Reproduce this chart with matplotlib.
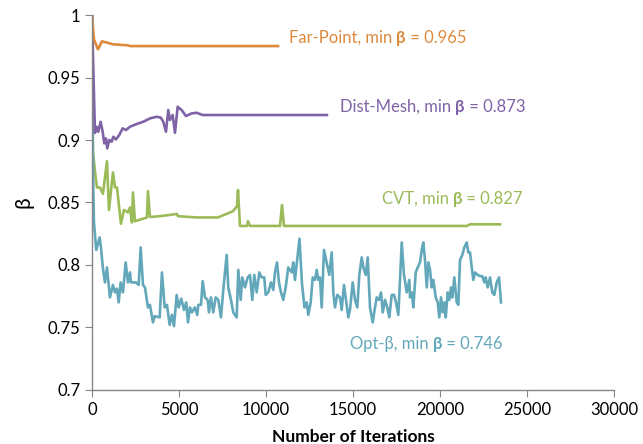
import matplotlib
matplotlib.use("Agg")
import matplotlib.pyplot as plt
from matplotlib.ticker import FuncFormatter, MultipleLocator
from matplotlib.offsetbox import TextArea, HPacker, AnnotationBbox

plt.rcParams['font.family'] = ['Lato', 'DejaVu Sans']

# Far-Point
fp_iter = [0, 115, 345, 575, 862, 1207, 2070, 2185, 10695]
fp_beta = [1.0, 0.9806, 0.9726, 0.979, 0.978, 0.9766, 0.9758, 0.9752, 0.9752]

# Dist-Mesh
dm_iter = [0, 172, 270, 362, 500, 615, 707, 805, 879, 994, 1132, 1224, 1379,
           1569, 1764, 1954, 2184, 2569, 2948, 3333, 3718, 3948, 4098, 4253,
           4385, 4483, 4638, 4770, 4925, 5155, 5402, 5730, 6017, 6362, 13500]
dm_beta = [1.0, 0.9056, 0.9106, 0.9066, 0.9146, 0.9066, 0.8973, 0.9013, 0.8933,
           0.900, 0.8986, 0.9026, 0.9005, 0.904, 0.9093, 0.908, 0.9106, 0.9128,
           0.9146, 0.9173, 0.9186, 0.918, 0.9146, 0.9066, 0.924, 0.916, 0.920,
           0.9058, 0.9266, 0.924, 0.9192, 0.9213, 0.9218, 0.920, 0.920]

# CVT
cvt_iter = [0, 57, 172, 287, 460, 632, 862, 977, 1207, 1322, 1437, 1667, 1839,
            2069, 2184, 2299, 2356, 2471, 3161, 3218, 3333, 3908, 4885, 4942,
            6034, 7241, 8103, 8333, 8391, 8506, 8908, 8965, 9080, 10804, 10919,
            11034, 21551, 21724, 23448]
cvt_beta = [1.0, 0.891, 0.875, 0.862, 0.862, 0.857, 0.883, 0.844, 0.874, 0.862,
            0.862, 0.833, 0.844, 0.842, 0.846, 0.834, 0.858, 0.835, 0.838, 0.859,
            0.8384, 0.839, 0.8408, 0.839, 0.838, 0.838, 0.843, 0.847, 0.860,
            0.8312, 0.8312, 0.835, 0.8312, 0.8312, 0.848, 0.8312, 0.8312,
            0.8325, 0.8325]

# Opt-beta
opt_iter = [0, 60, 115, 247, 442, 517, 632, 747, 862, 1034, 1207, 1322, 1437,
            1534, 1649, 1782, 1937, 2069, 2184, 2241, 2529, 2684, 2799, 2931,
            3046, 3218, 3333, 3506, 3603, 3891, 4023, 4178, 4310, 4465, 4598,
            4713, 4868, 4983, 5132, 5287, 5419, 5517, 5632, 5747, 5902, 6052,
            6109, 6264, 6362, 6494, 6649, 6724, 6839, 6971, 7109, 7258, 7414,
            7546, 7741, 7833, 7988, 8121, 8218, 8316, 8408, 8546, 8638, 8793,
            8948, 9080, 9213, 9327, 9465, 9615, 9753, 9902, 9983, 10132, 10287,
            10419, 10517, 10632, 10747, 10862, 10994, 11132, 11281, 11477,
            11569, 11666, 11925, 12068, 12212, 12339, 12431, 12569, 12684,
            12816, 12914, 13006, 13103, 13201, 13333, 13488, 13638, 13776,
            13868, 13965, 14097, 14253, 14350, 14482, 14597, 14730, 14827,
            14982, 15115, 15247, 15362, 15500, 15592, 15730, 15845, 15977,
            16132, 16264, 16362, 16494, 16609, 16707, 16839, 16971, 17086,
            17224, 17356, 17471, 17603, 17701, 17799, 17931, 18086, 18235,
            18276, 18374, 18466, 18604, 18719, 18850, 18948, 19040, 19138,
            19236, 19328, 19425, 19523, 19615, 19753, 19868, 19960, 20057,
            20155, 20247, 20327, 20442, 20534, 20632, 20707, 20822, 20960,
            21052, 21149, 21281, 21396, 21534, 21626, 21724, 21822, 21913,
            22011, 22166, 22298, 22430, 22545, 22626, 22741, 22873, 23005,
            23120, 23258, 23390, 23505]
opt_beta = [1.0, 0.875, 0.834, 0.812, 0.822, 0.814, 0.797, 0.786, 0.798, 0.774,
            0.784, 0.778, 0.781, 0.770, 0.786, 0.778, 0.802, 0.786, 0.794, 0.786,
            0.786, 0.784, 0.814, 0.784, 0.782, 0.766, 0.768, 0.754, 0.759, 0.758,
            0.794, 0.766, 0.768, 0.752, 0.760, 0.751, 0.776, 0.766, 0.773, 0.764,
            0.770, 0.754, 0.766, 0.762, 0.766, 0.760, 0.768, 0.768, 0.787, 0.774,
            0.772, 0.762, 0.774, 0.762, 0.774, 0.772, 0.758, 0.780, 0.808, 0.782,
            0.772, 0.762, 0.760, 0.758, 0.796, 0.772, 0.790, 0.782, 0.790, 0.792,
            0.772, 0.792, 0.778, 0.794, 0.790, 0.790, 0.776, 0.778, 0.786, 0.780,
            0.794, 0.802, 0.786, 0.778, 0.772, 0.782, 0.798, 0.794, 0.802, 0.788,
            0.821, 0.785, 0.766, 0.770, 0.760, 0.770, 0.790, 0.788, 0.796, 0.788,
            0.790, 0.766, 0.812, 0.802, 0.792, 0.810, 0.778, 0.766, 0.776, 0.774,
            0.764, 0.784, 0.772, 0.758, 0.764, 0.786, 0.772, 0.766, 0.792, 0.806,
            0.798, 0.792, 0.806, 0.766, 0.754, 0.766, 0.774, 0.772, 0.778, 0.762,
            0.772, 0.766, 0.758, 0.776, 0.776, 0.770, 0.760, 0.788, 0.818, 0.792,
            0.778, 0.788, 0.774, 0.778, 0.766, 0.794, 0.798, 0.802, 0.812, 0.818,
            0.804, 0.782, 0.802, 0.796, 0.782, 0.788, 0.774, 0.770, 0.758, 0.774,
            0.762, 0.770, 0.758, 0.778, 0.772, 0.782, 0.774, 0.790, 0.770, 0.768,
            0.804, 0.808, 0.814, 0.818, 0.810, 0.810, 0.798, 0.788, 0.794, 0.792,
            0.791, 0.791, 0.786, 0.790, 0.782, 0.790, 0.778, 0.776, 0.786, 0.790,
            0.770]

c_fp = '#DD8A3E'
c_dm = '#7F63A6'
c_cvt = '#9BBB59'
c_opt = '#62A8BA'

fig = plt.figure(figsize=(6.43, 4.44), dpi=100)
ax = fig.add_axes([0.143, 0.122, 0.812, 0.844])

ax.plot(cvt_iter, cvt_beta, color=c_cvt, lw=1.9)
ax.plot(opt_iter, opt_beta, color=c_opt, lw=1.9)
ax.plot(dm_iter, dm_beta, color=c_dm, lw=1.9)
ax.plot(fp_iter, fp_beta, color=c_fp, lw=1.9)

#curve labels, with a bold beta in the middle
tsize = 12
def curve_label(x, y, head, tail, color):
    parts = [TextArea(head, textprops=dict(color=color, size=tsize)),
             TextArea('β', textprops=dict(color=color, size=tsize, weight='bold')),
             TextArea(tail, textprops=dict(color=color, size=tsize))]
    box = HPacker(children=parts, pad=0, sep=0, align='baseline')
    ab = AnnotationBbox(box, (x, y), xycoords='data', box_alignment=(0, 0.5),
                        frameon=False, pad=0)
    ax.add_artist(ab)

curve_label(11320, 0.9816, 'Far-Point, min ', ' = 0.965', c_fp)
curve_label(14250, 0.9264, 'Dist-Mesh, min ', ' = 0.873', c_dm)
curve_label(16650, 0.8528, 'CVT, min ', ' = 0.827', c_cvt)
curve_label(14830, 0.7368, 'Opt-β, min ', ' = 0.746', c_opt)

ax.set_xlim(0, 30000)
ax.set_ylim(0.7, 1.0)
ax.xaxis.set_major_locator(MultipleLocator(5000))
ax.yaxis.set_major_locator(MultipleLocator(0.05))
ax.yaxis.set_major_formatter(FuncFormatter(lambda v, p: '%g' % round(v, 2)))

for s in ['top', 'right']:
    ax.spines[s].set_visible(False)
for s in ['left', 'bottom']:
    ax.spines[s].set_color('#868686')
    ax.spines[s].set_linewidth(1.0)
ax.tick_params(colors='#868686', labelcolor='black', labelsize=12, length=5,
               direction='out')

ax.set_xlabel('Number of Iterations', fontsize=12.5, fontweight='bold', labelpad=8)
ax.set_ylabel('β', fontsize=15, labelpad=10)

fig.savefig('out.png', dpi=100)
